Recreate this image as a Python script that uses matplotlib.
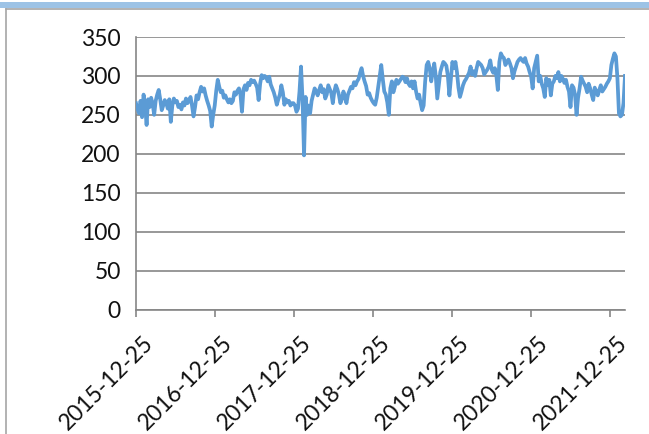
import matplotlib
matplotlib.use('Agg')
import matplotlib.pyplot as plt
from matplotlib.patches import Rectangle
from matplotlib.lines import Line2D
from matplotlib.transforms import ScaledTranslation
import pandas as pd

# weekly series, one list per year (first week starts 2015-12-25)
y2016 = [265, 258, 252, 268, 247, 276, 262, 237, 270, 260, 272, 264, 250, 268, 276, 282,
         270, 256, 262, 269, 265, 258, 270, 241, 262, 271, 266, 268, 260, 263, 257, 266,
         262, 271, 265, 268, 273, 262, 248, 260, 275, 270, 279, 286, 280, 284, 275, 268,
         262, 255, 235, 250]
y2017 = [262, 281, 295, 286, 279, 281, 272, 275, 270, 266, 270, 265, 268, 279, 276, 281,
         284, 276, 254, 283, 288, 282, 291, 288, 295, 292, 294, 290, 285, 269, 290, 301,
         297, 300, 298, 293, 299, 289, 284, 279, 272, 263, 270, 276, 288, 279, 263, 270,
         266, 268, 262, 265]
y2018 = [265, 262, 254, 258, 280, 312, 270, 198, 273, 250, 262, 252, 268, 276, 284, 280,
         275, 282, 288, 279, 283, 271, 276, 288, 283, 278, 265, 280, 288, 283, 276, 265,
         270, 280, 274, 265, 276, 281, 286, 284, 292, 288, 293, 296, 304, 310, 300, 293,
         287, 276, 278, 272]
y2019 = [268, 265, 263, 272, 286, 299, 314, 296, 280, 276, 266, 250, 284, 293, 279, 286,
         295, 290, 293, 296, 299, 298, 292, 297, 290, 287, 293, 284, 293, 280, 271, 276,
         265, 256, 262, 293, 314, 318, 310, 293, 305, 316, 300, 271, 288, 305, 312, 318,
         316, 313, 300, 275]
y2020 = [296, 318, 310, 318, 305, 285, 273, 280, 288, 293, 296, 300, 304, 312, 302, 306,
         300, 310, 318, 316, 314, 310, 302, 305, 308, 312, 320, 308, 304, 310, 301, 282,
         318, 329, 325, 323, 314, 318, 321, 316, 310, 297, 306, 312, 318, 321, 323, 320,
         318, 323, 316, 312]
y2021 = [305, 299, 284, 310, 318, 326, 293, 300, 290, 284, 273, 297, 288, 295, 275, 290,
         293, 300, 297, 305, 293, 300, 296, 291, 295, 286, 280, 260, 288, 285, 276, 250,
         272, 284, 299, 294, 290, 286, 279, 290, 284, 276, 269, 285, 280, 275, 282, 288,
         280, 283, 286, 290, 293]
y2022 = [297, 314, 322, 329, 325, 297, 252, 248, 250, 265, 300]

values = y2016 + y2017 + y2018 + y2019 + y2020 + y2021 + y2022
dates = pd.date_range('2015-12-25', periods=len(values), freq='7D')

tick_dates = pd.to_datetime(['2015-12-25', '2016-12-25', '2017-12-25', '2018-12-25',
                             '2019-12-25', '2020-12-25', '2021-12-25'])
yticks = [0, 50, 100, 150, 200, 250, 300, 350]

plt.rcParams['font.family'] = ['Lato', 'DejaVu Sans']
grey = '#868686'

fig = plt.figure(figsize=(6.49, 4.34), dpi=100)

# chart frame: blue strip on top, grey border on top/left
fig.patches.append(Rectangle((0, 1 - 7.5 / 434), 1, 5.5 / 434, transform=fig.transFigure,
                             facecolor='#9DC3E6', edgecolor='none'))
fig.lines.append(Line2D([6 / 649, 1], [1 - 9 / 434, 1 - 9 / 434], transform=fig.transFigure,
                        color='#A6A6A6', lw=1.2))
fig.lines.append(Line2D([6 / 649, 6 / 649], [0, 1 - 9 / 434], transform=fig.transFigure,
                        color='#A6A6A6', lw=1.2))

ax = fig.add_axes([136 / 649, 1 - 309.5 / 434, 489 / 649, 272.5 / 434])
ax.plot(dates, values, color='#5B9BD5', lw=2.7, solid_joinstyle='round', zorder=3)

ax.set_ylim(0, 350)
ax.set_xlim(dates[0], dates[-1])
ax.set_yticks(yticks)
ax.grid(axis='y', color=grey, lw=1.2)
ax.set_axisbelow(True)

for s in ['top', 'right']:
    ax.spines[s].set_visible(False)
for s in ['left', 'bottom']:
    ax.spines[s].set_color(grey)
    ax.spines[s].set_linewidth(1.2)

ax.tick_params(axis='y', length=0, labelsize=16.5, pad=11, labelcolor='#111111')
ax.set_xticks(tick_dates)
ax.set_xticklabels([d.strftime('%Y-%m-%d') for d in tick_dates], rotation=45,
                   ha='right', va='center', rotation_mode='anchor', fontsize=16.5,
                   color='#111111')
ax.tick_params(axis='x', length=5, width=1.2, color=grey, pad=6)

# push the slanted date labels a little right/down
shift = ScaledTranslation(14 / 100, -15 / 100, fig.dpi_scale_trans)
for lab in ax.get_xticklabels():
    lab.set_transform(lab.get_transform() + shift)

fig.savefig('out.png', dpi=100)
